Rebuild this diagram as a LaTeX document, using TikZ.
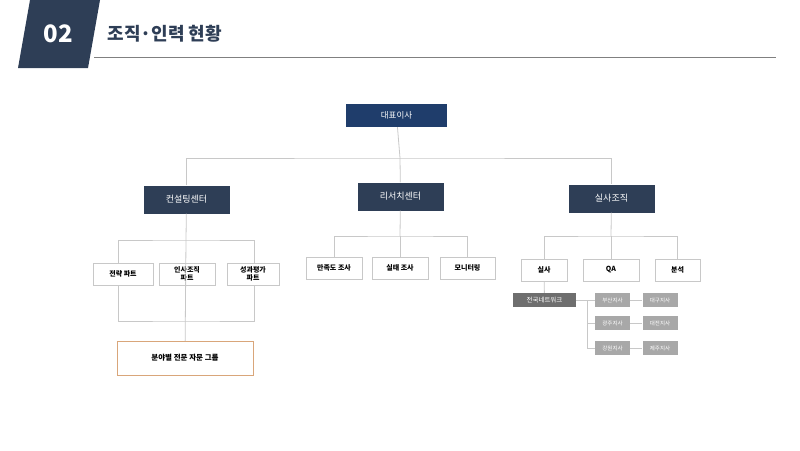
\documentclass[tikz,border=0pt]{standalone}
\usepackage{fontspec}
\setmainfont{Noto Sans CJK KR}
\usetikzlibrary{positioning}
\definecolor{navy}{HTML}{1F3D6B}
\definecolor{slate}{HTML}{2E3E56}
\definecolor{netgray}{HTML}{6E6E6E}
\definecolor{brgray}{HTML}{A8A8A8}
\definecolor{lgray}{HTML}{C8C8C8}
\definecolor{ornge}{HTML}{D9A67A}
\tikzset{
  center/.style={fill=slate,text=white,minimum width=86pt,minimum height=28pt,font=\fontsize{9}{10}\selectfont},
  part/.style={draw=lgray,fill=white,minimum height=22pt,align=center,inner sep=1pt,font=\fontsize{7}{8}\selectfont\bfseries},
  branch/.style={fill=brgray,text=white,minimum width=35pt,minimum height=14pt,inner sep=0pt,font=\fontsize{5.5}{6}\selectfont},
  link/.style={draw=lgray,line width=0.8pt}
}
\begin{document}
\begin{tikzpicture}[x=1pt,y=-1pt]
\useasboundingbox (0,0) rectangle (800,450);
% header
\fill[slate] (18,68) -- (30,0) -- (100,0) -- (88,68) -- cycle;
\node[text=white,font=\fontsize{24}{24}\selectfont\bfseries] (num) at (58,34) {02};
\node[anchor=west,text=slate,font=\fontsize{18}{18}\selectfont\bfseries] (title) at (104,34) {조직·인력 현황};
\draw[gray,line width=0.8pt] (94,57) -- (776,57);
% top levels
\node[fill=navy,text=white,minimum width=101pt,minimum height=23pt,font=\fontsize{8.5}{9}\selectfont] (ceo) at (396.5,115.5) {대표이사};
\node[center] (cons) at (186.5,199.5) {컨설팅센터};
\node[center] (res) at (400.5,196.5) {리서치센터};
\node[center] (insp) at (611.5,198.5) {실사조직};
\coordinate (hub) at (400,158);
\draw[link] (ceo) -- (hub);
\draw[link] (cons.north) |- (hub) -| (insp.north);
\draw[link] (hub) -- (res);
% consulting
\node[part,minimum width=60pt] (strat) at (123,274) {전략 파트};
\node[part,minimum width=56pt] (hr) at (187,274) {인사조직\\파트};
\node[part,minimum width=52pt] (perf) at (253,274) {성과평가\\파트};
\node[draw=ornge,fill=white,minimum width=136pt,minimum height=34pt,font=\fontsize{7.5}{8}\selectfont\bfseries] (expert) at (185,358) {분야별 전문 자문 그룹};
\coordinate (ctop) at (186,240);
\coordinate (cbot) at (186,321);
\draw[link] (cons) -- (ctop);
\draw[link] (118,263) |- (ctop) -| (254,263);
\draw[link] (118,285) |- (cbot) -| (254,285);
\draw[link] (ctop) -- (expert);
% research
\node[part,minimum width=56pt] (sat) at (334,268) {만족도 조사};
\node[part,minimum width=56pt] (fact) at (400,268) {실태 조사};
\node[part,minimum width=55pt] (mon) at (467.5,268) {모니터링};
\coordinate (rtop) at (400,236);
\draw[link] (res) -- (rtop);
\draw[link] (sat) |- (rtop) -| (mon);
\draw[link] (rtop) -- (fact);
% inspection
\node[part,minimum width=46pt] (sil) at (544,270) {실사};
\node[part,minimum width=56pt] (qa) at (611,270) {QA};
\node[part,minimum width=45pt] (ana) at (677.5,270) {분석};
\coordinate (itop) at (611,236);
\draw[link] (insp) -- (itop);
\draw[link] (sil) |- (itop) -| (ana);
\draw[link] (itop) -- (qa);
\node[fill=netgray,text=white,minimum width=63pt,minimum height=14pt,inner sep=0pt,font=\fontsize{6.5}{7}\selectfont] (net) at (544.5,300) {전국네트워크};
\draw[link] (sil) -- (net);
\node[branch] (busan) at (612.5,300) {부산지사};
\node[branch] (daegu) at (660,300) {대구지사};
\node[branch] (gwangju) at (612.5,323) {광주지사};
\node[branch] (daejeon) at (660,323) {대전지사};
\node[branch] (gangwon) at (612.5,348) {강원지사};
\node[branch] (jeju) at (660,348) {제주지사};
\coordinate (nj) at (587,300);
\draw[link] (net) -- (busan);
\draw[link] (nj) |- (gwangju);
\draw[link] (nj) |- (gangwon);
\draw[link] (busan) -- (daegu);
\draw[link] (gwangju) -- (daejeon);
\draw[link] (gangwon) -- (jeju);
\end{tikzpicture}
\end{document}
